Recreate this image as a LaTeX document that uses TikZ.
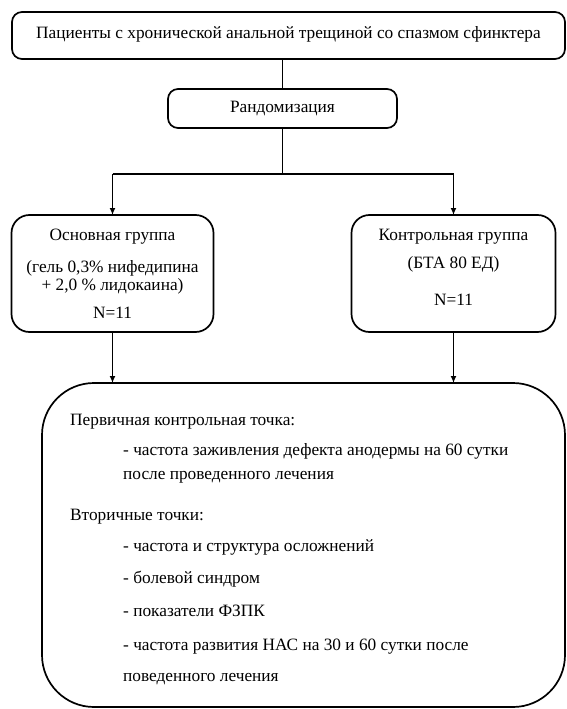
\documentclass[tikz,border=0pt]{standalone}
\usepackage{fontspec}
\setmainfont{Liberation Serif}
\usetikzlibrary{arrows.meta}
\begin{document}
\begin{tikzpicture}[x=1pt,y=-1pt,
  box/.style={draw, line width=1.7pt, rounded corners=10pt, inner sep=0pt, outer sep=0pt},
  txt/.style={font=\fontsize{17.3}{20}\selectfont, inner sep=0pt, text height=11pt, text depth=4pt},
  ln/.style={line width=1.7pt},
  arr/.style={line width=1.7pt, -{Latex[length=7pt,width=6pt]}}]
\useasboundingbox (0,0) rectangle (566,709);
% boxes
\node[box, txt, minimum width=553pt, minimum height=47pt] (top) at (288.5,35.5)
  {Пациенты с хронической анальной трещиной со спазмом сфинктера};
\node[box, txt, minimum width=229pt, minimum height=39pt] (rand) at (282.5,108.5) {Рандомизация};
\node[box, rounded corners=18pt, minimum width=202pt, minimum height=117pt] (main) at (112.5,273.5) {};
\node[box, rounded corners=18pt, minimum width=204pt, minimum height=117pt] (ctrl) at (453.5,273.5) {};
\node[box, rounded corners=52pt, minimum width=523pt, minimum height=324pt] (big) at (303.5,545) {};
% group texts
\node[txt] (m1) at (112.5,237) {Основная группа};
\node[txt] (m2) at (112.5,269) {(гель 0,3\% нифедипина};
\node[txt] (m3) at (112.5,287) {+ 2,0 \% лидокаина)};
\node[txt] (m4) at (112.5,315) {N=11};
\node[txt] (c1) at (453.5,237) {Контрольная группа};
\node[txt] (c2) at (453.5,265) {(БТА 80 ЕД)};
\node[txt] (c3) at (453.5,302) {N=11};
% outcome texts
\node[txt, anchor=west] (o1) at (70,422) {Первичная контрольная точка:};
\node[txt, anchor=west] (o2) at (123,452) {- частота заживления дефекта анодермы на 60 сутки};
\node[txt, anchor=west] (o3) at (123,476) {после проведенного лечения};
\node[txt, anchor=west] (o4) at (70,517) {Вторичные точки:};
\node[txt, anchor=west] (o5) at (123,548) {- частота и структура осложнений};
\node[txt, anchor=west] (o6) at (123,580) {- болевой синдром};
\node[txt, anchor=west] (o7) at (123,613) {- показатели ФЗПК};
\node[txt, anchor=west] (o8) at (123,647) {- частота развития НАС на 30 и 60 сутки после};
\node[txt, anchor=west] (o9) at (123,678) {поведенного лечения};
% connectors
\coordinate (hl) at (112.5,174);
\coordinate (hr) at (453.5,174);
\draw[ln] (top.south -| rand.north) -- (rand.north);
\draw[ln] (rand.south) -- (rand.south |- hl);
\draw[ln] (hl) -- (hr);
\draw[arr] (hl) -- (main.north);
\draw[arr] (hr) -- (ctrl.north);
\draw[arr] (main.south) -- (main.south |- big.north);
\draw[arr] (ctrl.south) -- (ctrl.south |- big.north);
\end{tikzpicture}
\end{document}
